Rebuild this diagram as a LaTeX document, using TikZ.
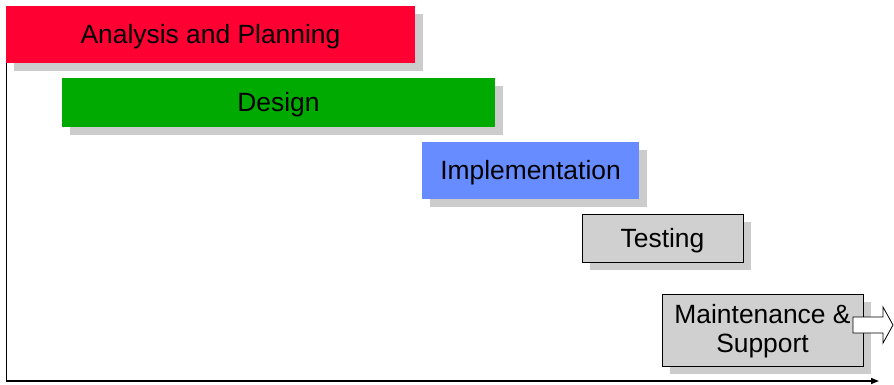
\documentclass[tikz,border=0pt]{standalone}
\usepackage{fontspec}
\setmainfont{Liberation Sans}
\usetikzlibrary{shadows,arrows.meta}
\definecolor{anared}{RGB}{255,0,51}
\definecolor{desgreen}{RGB}{0,170,0}
\definecolor{impblue}{RGB}{102,140,255}
\definecolor{shgray}{RGB}{204,204,204}
\definecolor{boxgray}{RGB}{208,208,208}
\tikzset{
  phase/.style={rectangle, inner sep=0pt, outer sep=0pt, font=\fontsize{26.4}{29}\selectfont,
    text height=20pt, text depth=2pt,
    drop shadow={shadow xshift=8pt, shadow yshift=-8pt, fill=shgray, opacity=1}},
  grayphase/.style={fill=boxgray, draw=black, line width=0.8pt},
  axis/.style={line width=1.5pt, -{Triangle[length=8pt,width=6pt]}},
  blockarrow/.style={draw=black, fill=white, line width=0.8pt, line join=miter}
}
\begin{document}
\begin{tikzpicture}[x=1pt,y=-1pt]
\useasboundingbox (0,0) rectangle (894,384);
% axes
\coordinate (ytop) at (6.5,6);
\coordinate (origin) at (6.5,381);
\coordinate (xend) at (879,381);
\draw[axis] (ytop) -- (origin) -- (xend);
% phases
\node[phase, fill=anared, minimum width=409pt, minimum height=57pt] (ana) at (210.5,34.5) {Analysis and Planning};
\node[phase, fill=desgreen, minimum width=433pt, minimum height=49pt] (des) at (278.5,102.5) {Design};
\node[phase, fill=impblue, minimum width=217pt, minimum height=57pt] (imp) at (530.5,170.5) {Implementation};
\node[phase, grayphase, minimum width=161pt, minimum height=48pt] (tes) at (662.5,238) {Testing};
\node[phase, grayphase, text height=46pt, minimum width=201pt, minimum height=72pt, align=center] (mai) at (762.5,330) {Maintenance \&\\Support};
% block arrow
\draw[blockarrow] (853,317) -- (883,317) -- (883,307) -- (893,325) -- (883,343) -- (883,333) -- (853,333) -- cycle;
\end{tikzpicture}
\end{document}
